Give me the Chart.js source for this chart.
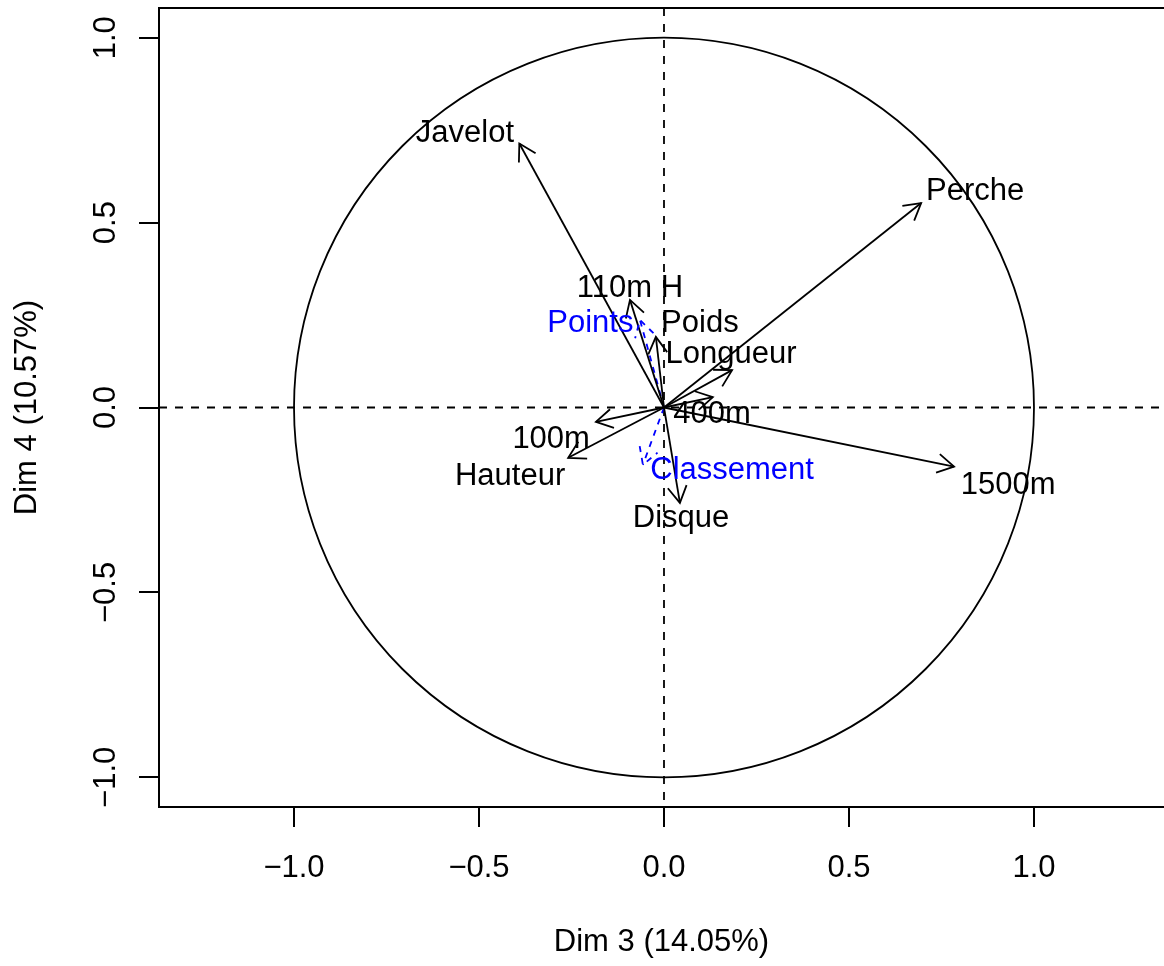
<!DOCTYPE html>
<html>
<head>
<meta charset="utf-8">
<script src="https://cdn.jsdelivr.net/npm/chart.js@4.4.0/dist/chart.umd.min.js"></script>
<style>
  html, body { margin: 0; padding: 0; background: #fff; overflow: hidden; }
</style>
</head>
<body>
<canvas id="corCircle" width="1164" height="966"></canvas>
<script>
// active variables: coordinates on Dim 3 / Dim 4
const varNames = ['Javelot', 'Perche', '1500m', '110m H', 'Poids', 'Longueur', '400m', '100m', 'Hauteur', 'Disque'];
const varDim3 = [-0.391, 0.695, 0.784, -0.092, -0.022, 0.184, 0.132, -0.184, -0.259, 0.043];
const varDim4 = [0.714, 0.553, -0.160, 0.291, 0.191, 0.101, 0.028, -0.039, -0.136, -0.258];
// where each label sits (data units)
const varLabDim3 = [-0.538, 0.841, 0.930, -0.092, 0.097, 0.181, 0.130, -0.305, -0.416, 0.046];
const varLabDim4 = [0.748, 0.591, -0.204, 0.328, 0.234, 0.150, -0.012, -0.080, -0.180, -0.293];

// supplementary variables (blue, dashed)
const supNames = ['Points', 'Classement'];
const supDim3 = [-0.065, -0.057];
const supDim4 = [0.237, -0.155];
const supLabDim3 = [-0.199, 0.184];
const supLabDim4 = [0.234, -0.164];

const tickValues = [-1, -0.5, 0, 0.5, 1];
const xTitle = 'Dim 3 (14.05%)';
const yTitle = 'Dim 4 (10.57%)';

const FONT = "'Liberation Sans', Arial, Helvetica, sans-serif";
const FS = 31;
Chart.defaults.font.family = FONT;
Chart.defaults.color = '#000';

const fmt = v => (v < 0 ? '\u2212' : '') + Math.abs(v).toFixed(1);

// one line dataset per arrow, from the origin to the variable
const datasets = [];
varNames.forEach((n, i) => {
    datasets.push({
        label: n,
        data: [{ x: 0, y: 0 }, { x: varDim3[i], y: varDim4[i] }],
        showLine: true, borderColor: '#000', borderWidth: 1.8,
        pointRadius: 0, fill: false, lab: [varLabDim3[i], varLabDim4[i]], col: '#000'
    });
});
supNames.forEach((n, i) => {
    datasets.push({
        label: n,
        data: [{ x: 0, y: 0 }, { x: supDim3[i], y: supDim4[i] }],
        showLine: true, borderColor: '#0000ff', borderWidth: 1.8, borderDash: [6, 6],
        pointRadius: 0, fill: false, lab: [supLabDim3[i], supLabDim4[i]], col: '#0000ff'
    });
});

// text centred on the cap height rather than the em box
function capText(ctx, txt, px, py) {
    ctx.textAlign = 'center';
    ctx.textBaseline = 'alphabetic';
    ctx.fillText(txt, px, py + FS * 0.358);
}

const decor = {
    id: 'decor',
    beforeDatasetsDraw(chart) {
        const { ctx, chartArea: a, scales: { x, y } } = chart;
        const cx = x.getPixelForValue(0), cy = y.getPixelForValue(0);
        ctx.save();
        ctx.strokeStyle = '#000';
        // top border of the box
        ctx.lineWidth = 2;
        ctx.beginPath();
        ctx.moveTo(a.left, a.top); ctx.lineTo(a.right, a.top);
        ctx.stroke();
        // dashed axes through the origin
        ctx.lineWidth = 1.8;
        ctx.setLineDash([8, 8]);
        ctx.beginPath();
        ctx.moveTo(a.left, cy); ctx.lineTo(a.right, cy);
        ctx.moveTo(cx, a.top); ctx.lineTo(cx, a.bottom);
        ctx.stroke();
        ctx.setLineDash([]);
        // unit circle
        const rx = x.getPixelForValue(1) - cx, ry = cy - y.getPixelForValue(1);
        ctx.beginPath();
        ctx.ellipse(cx, cy, rx, ry, 0, 0, Math.PI * 2);
        ctx.stroke();
        ctx.restore();
    },
    afterDatasetsDraw(chart) {
        const { ctx, scales: { x, y } } = chart;
        ctx.save();
        chart.data.datasets.forEach((ds, i) => {
            const pts = chart.getDatasetMeta(i).data;
            const p0 = pts[0], p1 = pts[1];
            const ang = Math.atan2(p1.y - p0.y, p1.x - p0.x);
            const len = 19, spread = Math.PI / 6;
            ctx.strokeStyle = ds.col;
            ctx.lineWidth = 1.8;
            ctx.setLineDash(ds.borderDash || []);
            ctx.beginPath();
            ctx.moveTo(p1.x - len * Math.cos(ang - spread), p1.y - len * Math.sin(ang - spread));
            ctx.lineTo(p1.x, p1.y);
            ctx.lineTo(p1.x - len * Math.cos(ang + spread), p1.y - len * Math.sin(ang + spread));
            ctx.stroke();
            ctx.setLineDash([]);
            // label
            ctx.fillStyle = ds.col;
            ctx.font = FS + 'px ' + FONT;
            capText(ctx, ds.label, x.getPixelForValue(ds.lab[0]), y.getPixelForValue(ds.lab[1]));
        });
        ctx.restore();
    },
    afterDraw(chart) {
        // rotated tick labels on the y axis
        const { ctx, scales: { y } } = chart;
        ctx.save();
        ctx.fillStyle = '#000';
        ctx.font = FS + 'px ' + FONT;
        tickValues.forEach(v => {
            ctx.save();
            ctx.translate(103.5, y.getPixelForValue(v));
            ctx.rotate(-Math.PI / 2);
            capText(ctx, fmt(v), 0, 0);
            ctx.restore();
        });
        ctx.restore();
    }
};

new Chart(document.getElementById('corCircle'), {
    type: 'scatter',
    data: { datasets },
    options: {
        responsive: false,
        animation: false,
        layout: { padding: { top: 8, right: 0, left: 0, bottom: 0 } },
        plugins: { legend: { display: false }, tooltip: { enabled: false } },
        scales: {
            x: {
                type: 'linear',
                min: -1.3649, max: 1.3514,
                afterBuildTicks: s => { s.ticks = tickValues.map(v => ({ value: v })); },
                afterFit: s => { s.height = 159; },
                ticks: { callback: v => fmt(v), font: { size: FS }, color: '#000', padding: 23, maxRotation: 0, autoSkip: false },
                grid: { drawOnChartArea: false, tickLength: 20, color: '#000', lineWidth: 2 },
                border: { color: '#000', width: 2 },
                title: { display: true, text: xTitle, font: { size: FS }, color: '#000', padding: { top: 0, bottom: 5 } }
            },
            y: {
                type: 'linear',
                min: -1.0803, max: 1.0803,
                afterBuildTicks: s => { s.ticks = tickValues.map(v => ({ value: v })); },
                afterFit: s => { s.width = 159; },
                ticks: { display: false },
                grid: { drawOnChartArea: false, tickLength: 20, color: '#000', lineWidth: 2 },
                border: { color: '#000', width: 2 },
                title: { display: true, text: yTitle, font: { size: FS }, color: '#000', padding: { top: 9, bottom: 0 } }
            }
        }
    },
    plugins: [decor]
});
</script>
</body>
</html>
